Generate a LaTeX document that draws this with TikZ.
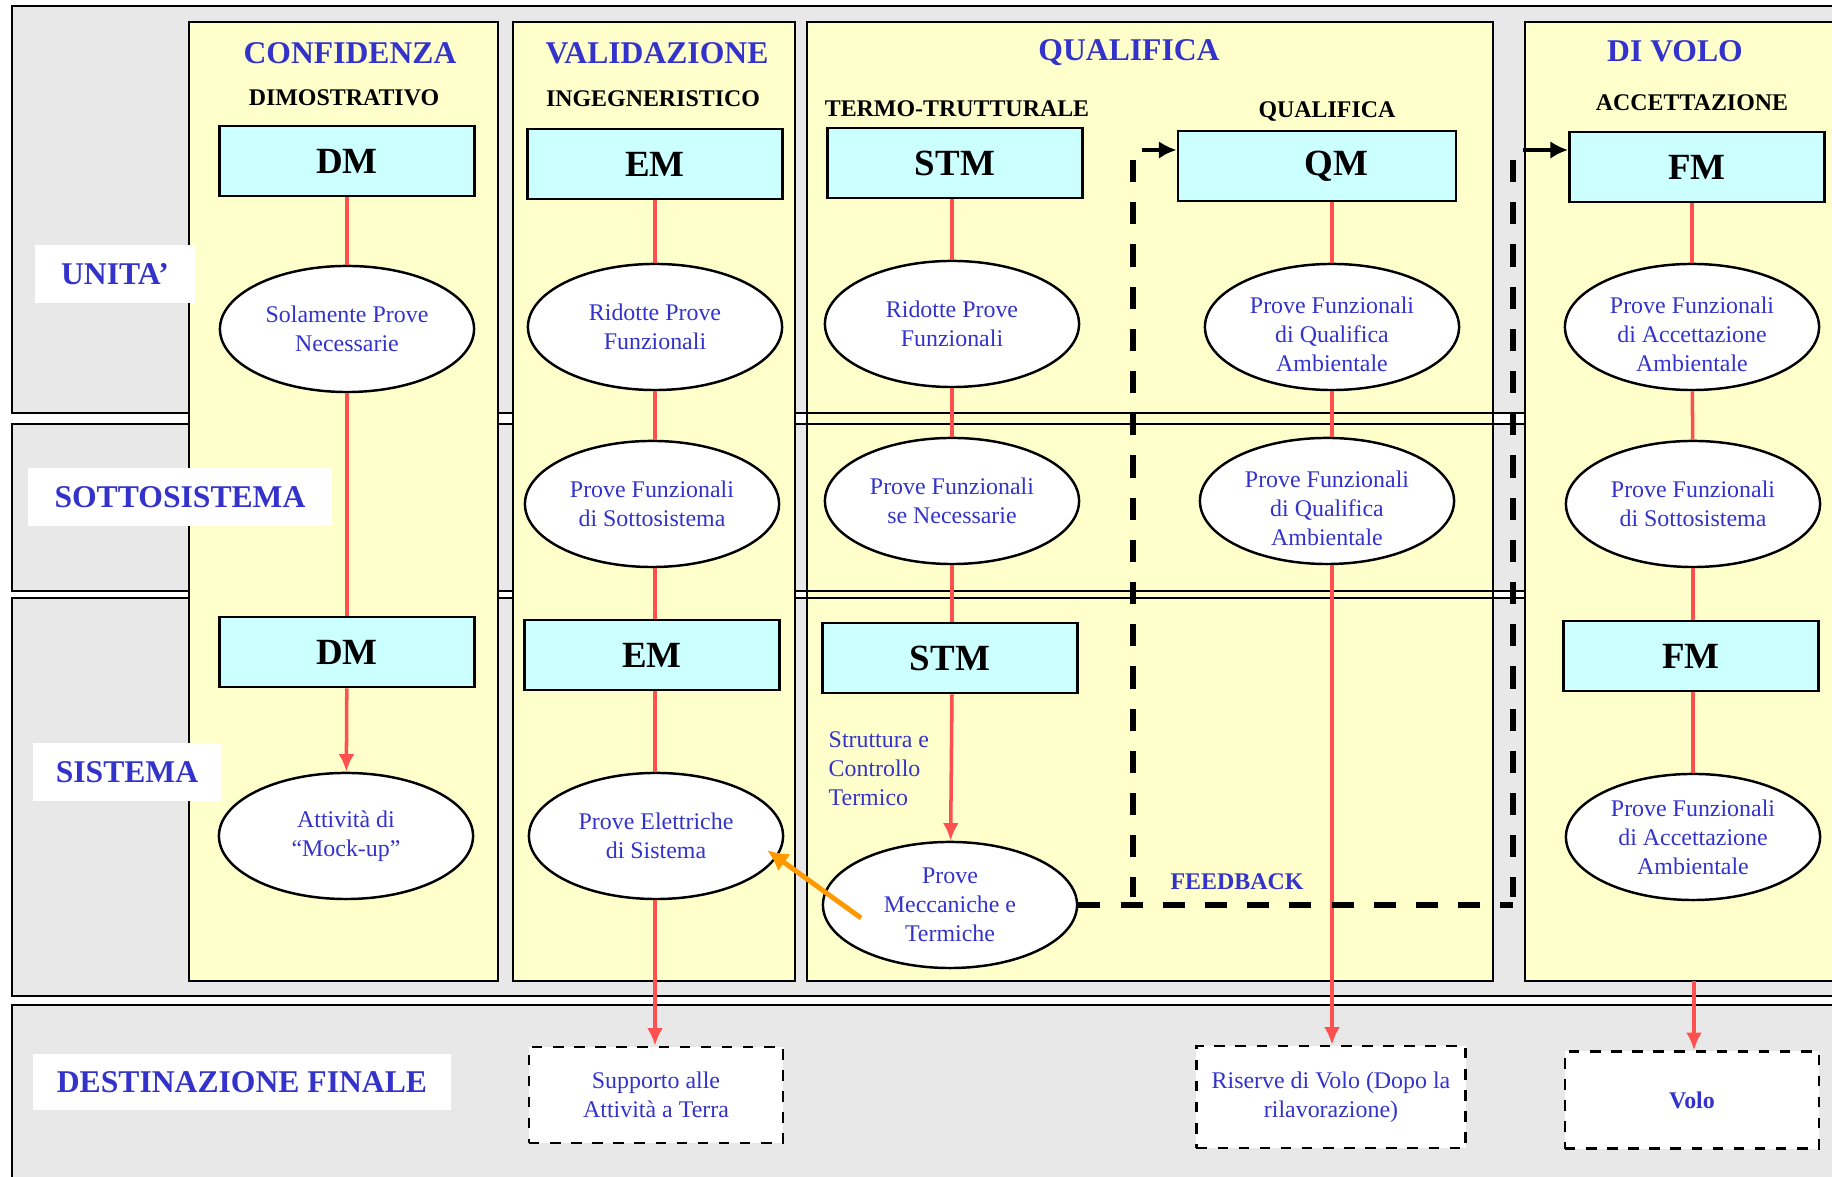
\documentclass[tikz,border=0pt]{standalone}
\usepackage{fontspec}
\setmainfont{Liberation Serif}
\usepackage{tikz}
\usetikzlibrary{arrows.meta}
\usetikzlibrary{shapes.geometric}
\definecolor{txtblue}{HTML}{3333CC}
\definecolor{bandgray}{HTML}{E8E8E8}
\definecolor{laneyellow}{HTML}{FFFFCC}
\definecolor{boxcyan}{HTML}{CCFFFF}
\definecolor{linered}{HTML}{FF5050}
\definecolor{fborange}{HTML}{FF9900}

\begin{document}
\begin{tikzpicture}[x=0.01cm, y=-0.01cm]
	\tikzstyle{band}=[draw, line width=0.7pt, fill=bandgray]
	\tikzstyle{lane}=[draw, line width=0.7pt, fill=laneyellow]
	\tikzstyle{rowlabel}=[fill=white, text=txtblue, inner sep=0pt, font=\fontsize{9}{11}\selectfont\bfseries]
	\tikzstyle{phase}=[text=txtblue, inner sep=1pt, font=\fontsize{9}{11}\selectfont\bfseries]
	\tikzstyle{model}=[inner sep=1pt, font=\fontsize{6.8}{8}\selectfont\bfseries]
	\tikzstyle{mbox}=[draw, line width=0.8pt, fill=boxcyan, minimum width=2.55cm, minimum height=0.70cm, inner sep=0pt, font=\fontsize{10.5}{12}\selectfont\bfseries]
	\tikzstyle{testell}=[ellipse, draw, line width=0.7pt, fill=white, minimum width=2.54cm, minimum height=1.26cm, inner sep=0pt, align=center, text=txtblue, font=\fontsize{6.8}{8.2}\selectfont]
	\tikzstyle{lowtext}=[inner ysep=-0.5pt]
	\tikzstyle{dest}=[draw, dashed, line width=0.7pt, fill=white, inner sep=0pt, align=center, text=txtblue, font=\fontsize{6.8}{8.2}\selectfont]
	\tikzstyle{redline}=[line width=1pt, linered]
	\tikzstyle{redarrow}=[line width=1pt, linered, -{Latex[width=4.5pt,length=5pt]}]
	\tikzstyle{feedback}=[line width=1.6pt, dash pattern=on 6.3pt off 5.7pt]
	\tikzstyle{fbarrow}=[line width=1.2pt, -{Latex[width=5pt,length=5pt]}]
	\useasboundingbox (0,0) rectangle (1832,1177);
	%%% BANDS %%%
	%unita band
	\draw[band] (12,6) rectangle (1850,413);
	%sottosistema band
	\draw[band] (12,424) rectangle (1850,591);
	%sistema band
	\draw[band] (12,598) rectangle (1850,996);
	%destinazione band
	\draw[band] (12,1005) rectangle (1850,1190);
	%%% COLUMNS %%%
	\draw[lane] (189,22) rectangle (498,981);
	\draw[lane] (513,22) rectangle (795,981);
	\draw[lane] (807,22) rectangle (1493,981);
	\draw[lane] (1525,22) rectangle (1850,981);
	%band borders across qualifica column
	\draw[line width=0.8pt] (795,413) -- (1525,413);
	\draw[line width=0.8pt] (795,424) -- (1525,424);
	\draw[line width=0.8pt] (795,591) -- (1525,591);
	\draw[line width=0.8pt] (795,598) -- (1525,598);
	%%% ROW LABELS %%%
	\node[rowlabel, minimum width=1.60cm, minimum height=0.58cm] (unita) at (115,274) {UNITA’};
	\node[rowlabel, minimum width=3.03cm, minimum height=0.57cm] (sottosistema) at (180,497) {SOTTOSISTEMA};
	\node[rowlabel, minimum width=1.87cm, minimum height=0.58cm] (sistema) at (127,772) {SISTEMA};
	\node[rowlabel, minimum width=4.18cm, minimum height=0.56cm] (destinazione) at (242,1082) {DESTINAZIONE FINALE};
	%%% PHASE TITLES %%%
	\node[phase] (confidenza) at (350,53) {CONFIDENZA};
	\node[model] (dimostrativo) at (344,98) {DIMOSTRATIVO};
	\node[phase] (validazione) at (657,53) {VALIDAZIONE};
	\node[model] (ingegneristico) at (653,99) {INGEGNERISTICO};
	\node[phase] (qualifica) at (1129,53) {QUALIFICA};
	\node[model] (termo) at (957,109) {TERMO-TRUTTURALE};
	\node[model] (qualmodel) at (1327,112) {QUALIFICA};
	\node[phase] (divolo) at (1675,51) {DI VOLO};
	\node[model] (accettazione) at (1692,103) {ACCETTAZIONE};
	%%% MODEL BOXES %%%
	\node[mbox] (dmtop) at (347,161) {DM};
	\node[mbox] (emtop) at (655,164) {EM};
	\node[mbox] (stmtop) at (955,163) {STM};
	\node[mbox, minimum width=2.78cm] (qmtop) at (1317,166) {\hspace*{11pt}QM};
	\node[mbox] (fmtop) at (1697,167) {FM};
	\node[mbox] (dmbot) at (347,652) {DM};
	\node[mbox] (embot) at (652,655) {EM};
	\node[mbox] (stmbot) at (950,658) {STM};
	\node[mbox] (fmbot) at (1691,656) {FM};
	%%% TESTS %%%
	%unita level
	\node[testell] (e1) at (347,329) {Solamente Prove\\Necessarie};
	\node[testell] (e2) at (655,327) {Ridotte Prove\\Funzionali};
	\node[testell] (e3) at (952,324) {Ridotte Prove\\Funzionali};
	\node[testell, lowtext] (e4) at (1332,327) {\rule{0pt}{9pt}Prove Funzionali\\di Qualifica\\Ambientale};
	\node[testell, lowtext] (e5) at (1692,327) {\rule{0pt}{9pt}Prove Funzionali\\di Accettazione\\Ambientale};
	%sottosistema level
	\node[testell] (e6) at (652,504) {Prove Funzionali\\di Sottosistema};
	\node[testell] (e7) at (952,501) {Prove Funzionali\\se Necessarie};
	\node[testell, lowtext] (e8) at (1327,501) {\rule{0pt}{9pt}Prove Funzionali\\di Qualifica\\Ambientale};
	\node[testell] (e9) at (1693,504) {Prove Funzionali\\di Sottosistema};
	%sistema level
	\node[testell] (e10) at (346,836) {Attività di\\“Mock-up”};
	\node[testell] (e11) at (656,836) {Prove Elettriche\\di Sistema};
	\node[testell] (e12) at (950,905) {Prove\\Meccaniche e\\Termiche};
	\node[testell] (e13) at (1693,837) {Prove Funzionali\\di Accettazione\\Ambientale};
	%struttura note
	\node[anchor=west, align=left, inner sep=0pt, text=txtblue, font=\fontsize{6.8}{8.2}\selectfont] (struttura) at (828,769) {Struttura e\\Controllo\\Termico};
	%%% DESTINATIONS %%%
	\node[dest, minimum width=2.54cm, minimum height=0.96cm] (supporto) at (656,1095) {Supporto alle\\Attività a Terra};
	\node[dest, minimum width=2.69cm, minimum height=1.02cm] (riserve) at (1331,1097) {Riserve di Volo (Dopo la\\rilavorazione)};
	\node[dest, minimum width=2.54cm, minimum height=0.97cm, font=\fontsize{6.8}{8.2}\selectfont\bfseries] (volo) at (1692,1100) {Volo};
	%%% RED FLOW LINES %%%
	%dimostrativo lane
	\draw[redline] (dmtop) -- (e1);
	\draw[redline] (e1) -- (dmbot);
	\draw[redarrow] (dmbot) -- (e10);
	%ingegneristico lane
	\draw[redline] (e2.north |- emtop.south) -- (e2);
	\draw[redline] (e2) -- (e2.south |- e6.north);
	\draw[redline] (e2.south |- e6.south) -- (e2.south |- embot.north);
	\draw[redline] (e2.south |- embot.south) -- (e2.south |- e11.north);
	\draw[redarrow] (e2.south |- e11.south) -- (e2.south |- supporto.north);
	%termo-strutturale lane
	\draw[redline] (e3.north |- stmtop.south) -- (e3);
	\draw[redline] (e3) -- (e7);
	\draw[redline] (e7.south) -- (e7.south |- stmbot.north);
	\draw[redarrow] (e7.south |- stmbot.south) -- (e12);
	%qualifica lane
	\draw[redline] (e4.north |- qmtop.south) -- (e4);
	\draw[redline] (e4.south) -- (e4.south |- e8.north);
	\draw[redarrow] (e4.south |- e8.south) -- (e4.south |- riserve.north);
	%accettazione lane
	\draw[redline] (e5.north |- fmtop.south) -- (e5);
	\draw[redline] (e5) -- (e9);
	\draw[redline] (e9.south) -- (e9.south |- fmbot.north);
	\draw[redline] (e9.south |- fmbot.south) -- (e13);
	\coordinate (lanebot) at (1694,981);
	\draw[redarrow] (lanebot) -- (lanebot |- volo.north);
	%%% FEEDBACK %%%
	\coordinate (fbqtop) at (1133,160);
	\coordinate (fbqbot) at (1133,897);
	\coordinate (fbftop) at (1513,160);
	\coordinate (fbfbot) at (1513,897);
	\coordinate (fbcorner) at (1513,905);
	\draw[feedback] (e12.east) -- (fbcorner);
	\draw[feedback] (fbqtop) -- (fbqbot);
	\draw[feedback] (fbftop) -- (fbfbot);
	%arrows into qm and fm
	\coordinate (fbqin) at (1142,150);
	\draw[fbarrow] (fbqin) -- (fbqin -| qmtop.west);
	\coordinate (fbfin) at (1523,150);
	\draw[fbarrow] (fbfin) -- (fbfin -| fmtop.west);
	\node[text=txtblue, inner sep=0pt, font=\fontsize{6.8}{8}\selectfont\bfseries] (fbtext) at (1237,882) {FEEDBACK};
	%orange arrow to elettriche
	\coordinate (orstart) at (861,918);
	\draw[line width=1.4pt, fborange, -{Latex[width=6pt,length=6pt]}, shorten >=-3.5pt] (orstart) -- (e11.-10);
\end{tikzpicture}
\end{document}
